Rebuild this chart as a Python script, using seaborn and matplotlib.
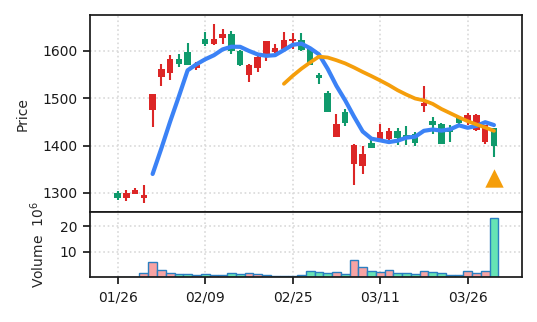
import numpy as np
import pandas as pd
import matplotlib
matplotlib.use("Agg")
import matplotlib.pyplot as plt
import seaborn as sns

# ---- data -------------------------------------------------------------
dates = pd.bdate_range("2026-01-26", "2026-03-31", freq="C",
                       holidays=["2026-02-11", "2026-02-23", "2026-03-20"])
open_ = [1299, 1289, 1298, 1290, 1476, 1545, 1554, 1582, 1597, 1563,
         1626, 1614, 1628, 1635, 1600, 1549, 1564, 1593, 1597, 1603,
         1621, 1623, 1603, 1549, 1511, 1418, 1471, 1362, 1357, 1405,
         1413, 1413, 1430, 1422, 1425, 1484, 1451, 1446, 1436, 1460,
         1452, 1432, 1408, 1437]
high = [1304, 1307, 1311, 1316, 1509, 1572, 1591, 1593, 1616, 1577,
        1640, 1656, 1646, 1642, 1602, 1572, 1589, 1621, 1614, 1640,
        1637, 1637, 1605, 1554, 1516, 1466, 1477, 1403, 1399, 1411,
        1446, 1438, 1438, 1441, 1429, 1525, 1460, 1448, 1443, 1463,
        1468, 1466, 1444, 1438]
low = [1285, 1284, 1297, 1279, 1439, 1526, 1538, 1566, 1570, 1560,
       1610, 1613, 1615, 1594, 1568, 1534, 1556, 1579, 1596, 1599,
       1603, 1599, 1570, 1530, 1470, 1418, 1442, 1316, 1339, 1394,
       1410, 1410, 1402, 1401, 1400, 1470, 1425, 1403, 1408, 1446,
       1443, 1430, 1403, 1376]
close = [1290, 1300, 1306, 1296, 1508, 1561, 1582, 1573, 1571, 1571,
         1614, 1625, 1635, 1599, 1570, 1571, 1588, 1620, 1606, 1624,
         1626, 1601, 1571, 1542, 1471, 1446, 1448, 1401, 1383, 1395,
         1428, 1430, 1416, 1415, 1405, 1490, 1444, 1404, 1429, 1447,
         1464, 1464, 1443, 1399]
volume = [0.2, 0.2, 0.2, 1.7, 5.8, 2.8, 1.7, 1.2, 1.2, 0.8,
          1.2, 0.8, 0.8, 1.7, 1.2, 1.7, 1.2, 0.7, 0.3, 0.6,
          0.6, 0.9, 2.4, 2.1, 1.6, 2.0, 1.2, 6.7, 4.0, 2.4,
          2.0, 2.8, 1.6, 1.6, 1.2, 2.4, 2.1, 1.7, 0.7, 0.7,
          2.4, 1.7, 2.4, 23.3]  # millions
signal_idx = [43]
signal_price = [1332]
tick_step = 10

# ---- frame ------------------------------------------------------------
df = pd.DataFrame({"date": dates, "open": open_, "high": high, "low": low,
                   "close": close, "volume": volume})
df["idx"] = np.arange(len(df))
df["ma5"] = df["close"].rolling(5).mean()
df["ma20"] = df["close"].rolling(20).mean()
up = df["close"] >= df["open"]

RED, GREEN = "#dc2626", "#0f9a6c"
VRED, VGREEN = "#f7a3a3", "#66e3b4"

sns.set_theme(style="ticks")
plt.rcParams.update({
    "font.family": ["DejaVu Sans"],
    "font.size": 10, "axes.labelsize": 10,
    "xtick.labelsize": 10, "ytick.labelsize": 10,
    "axes.edgecolor": "#1a1a1a", "axes.linewidth": 1.25,
    "xtick.color": "#1a1a1a", "ytick.color": "#1a1a1a",
    "xtick.major.size": 5, "ytick.major.size": 5,
    "xtick.major.pad": 4.5, "ytick.major.pad": 4.5,
})

fig = plt.figure(figsize=(5.37, 3.22), dpi=100)
gs = fig.add_gridspec(2, 1, height_ratios=[3, 1], hspace=0,
                      left=0.1685, right=0.972, top=0.952, bottom=0.139)
ax = fig.add_subplot(gs[0])
axv = fig.add_subplot(gs[1], sharex=ax)

grid_kw = dict(ls=":", color="#d9d9d9", lw=1.2)
ax.grid(True, **grid_kw)
axv.grid(True, **grid_kw)
ax.set_axisbelow(True)
axv.set_axisbelow(True)

# candles
colors = np.where(up, RED, GREEN)
ax.vlines(df["idx"], df["low"], df["high"], colors=colors, lw=1.5, zorder=2)
body_lo = np.minimum(df["open"], df["close"])
body_h = np.maximum(np.abs(df["close"] - df["open"]), 1.5)
ax.bar(df["idx"], body_h, bottom=body_lo, width=0.75, color=colors,
       linewidth=0, zorder=3)

# moving averages
sns.lineplot(data=df, x="idx", y="ma5", ax=ax, color="#3b82f6", lw=3.0,
             zorder=4, legend=False)
sns.lineplot(data=df, x="idx", y="ma20", ax=ax, color="#f59e0b", lw=2.7,
             zorder=4, legend=False)
ax.scatter(signal_idx, signal_price, marker="^", s=175, color="#f59e0b",
           linewidths=0, zorder=5)

# volume
vcolors = np.where(up, VRED, VGREEN)
axv.bar(df["idx"], df["volume"], width=1.0, color=vcolors,
        edgecolor="#2a7fc1", linewidth=1.0, zorder=2)
axv.set_ylim(0, df["volume"].max() * 1.1)
axv.set_yticks([10, 20])

ticks = df["idx"][::tick_step]
axv.set_xticks(ticks)
axv.set_xticklabels(df["date"][::tick_step].dt.strftime("%m/%d"))
ax.set_xlim(-3.1, 46.2)
ax.tick_params(axis="x", bottom=False, labelbottom=False)

ax.set_ylabel("Price", labelpad=9)
ax.set_xlabel("")
axv.set_ylabel("Volume  $10^6$", labelpad=9)
axv.set_xlabel("")
for a in (ax, axv):
    for s in a.spines.values():
        s.set_visible(True)

fig.savefig("out.png", dpi=100)
